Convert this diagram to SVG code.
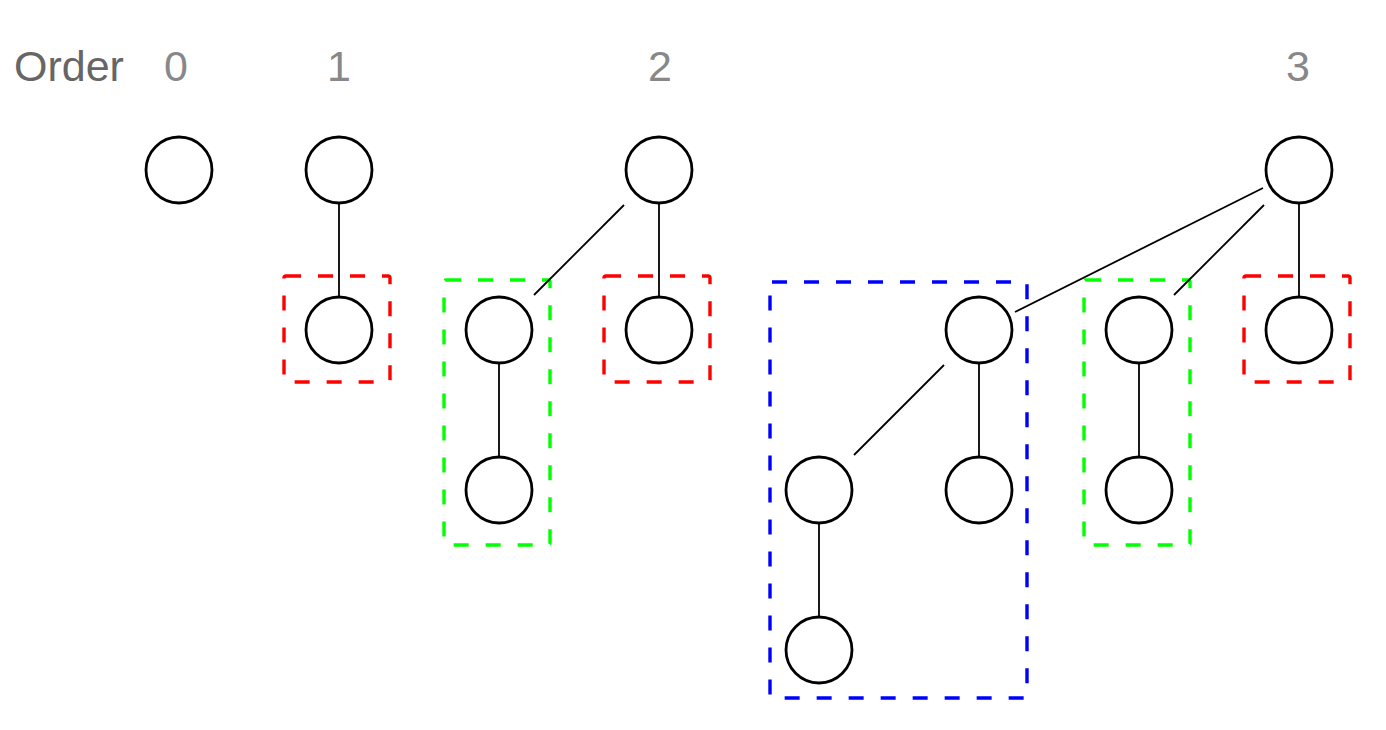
<svg xmlns="http://www.w3.org/2000/svg" width="1386" height="730" viewBox="0 0 1386 730">
<style>
.n{fill:#fff;stroke:#000;stroke-width:2.8}
.e{stroke:#000;stroke-width:1.8;fill:none}
.box{fill:none;stroke-width:3.4;stroke-dasharray:15 17}
.red{stroke:#ff0000}
.green{stroke:#00ff00}
.blue{stroke:#0000ff}
.t{font-family:"Liberation Sans",Arial,sans-serif;font-size:43px}
</style>
<rect width="1386" height="730" fill="#fff"/>
<g id="labels">
<text class="t" x="14" y="81" fill="#666666">Order</text>
<text class="t" x="176" y="81" fill="#888888" text-anchor="middle">0</text>
<text class="t" x="339" y="81" fill="#888888" text-anchor="middle">1</text>
<text class="t" x="660" y="81" fill="#888888" text-anchor="middle">2</text>
<text class="t" x="1298" y="81" fill="#888888" text-anchor="middle">3</text>
</g>
<g id="groups">
<rect id="box-red1" class="box red" x="284" y="276" width="106" height="106" rx="2"/>
<rect id="box-green1" class="box green" x="444" y="280" width="106" height="265" rx="2"/>
<rect id="box-red2" class="box red" x="604" y="276" width="106" height="106" rx="2"/>
<rect id="box-blue" class="box blue" x="770" y="282" width="257" height="416" rx="2"/>
<rect id="box-green2" class="box green" x="1084" y="280" width="106" height="265" rx="2"/>
<rect id="box-red3" class="box red" x="1244" y="276" width="106" height="106" rx="2"/>
</g>
<g id="connectors">
<line class="e" x1="339" y1="203" x2="339" y2="297"/>
<line class="e" x1="659" y1="203" x2="659" y2="297"/>
<line class="e" x1="624" y1="205" x2="534" y2="295"/>
<line class="e" x1="499" y1="363" x2="499" y2="457"/>
<line class="e" x1="1299" y1="203" x2="1299" y2="297"/>
<line class="e" x1="1264" y1="205" x2="1174" y2="295"/>
<line class="e" x1="1263" y1="188" x2="1015" y2="312"/>
<line class="e" x1="1139" y1="363" x2="1139" y2="457"/>
<line class="e" x1="979" y1="363" x2="979" y2="457"/>
<line class="e" x1="944" y1="365" x2="854" y2="455"/>
<line class="e" x1="819" y1="523" x2="819" y2="617"/>
</g>
<g id="node-o0"><circle class="n" cx="179" cy="170" r="33"/></g>
<g id="node-o1-root"><circle class="n" cx="339" cy="170" r="33"/></g>
<g id="node-o1-c0"><circle class="n" cx="339" cy="330" r="33"/></g>
<g id="node-o2-root"><circle class="n" cx="659" cy="170" r="33"/></g>
<g id="node-o2-c1"><circle class="n" cx="499" cy="330" r="33"/></g>
<g id="node-o2-c1a"><circle class="n" cx="499" cy="490" r="33"/></g>
<g id="node-o2-c0"><circle class="n" cx="659" cy="330" r="33"/></g>
<g id="node-o3-root"><circle class="n" cx="1299" cy="170" r="33"/></g>
<g id="node-o3-c2"><circle class="n" cx="979" cy="330" r="33"/></g>
<g id="node-o3-c2a"><circle class="n" cx="819" cy="490" r="33"/></g>
<g id="node-o3-c2aa"><circle class="n" cx="819" cy="650" r="33"/></g>
<g id="node-o3-c2b"><circle class="n" cx="979" cy="490" r="33"/></g>
<g id="node-o3-c1"><circle class="n" cx="1139" cy="330" r="33"/></g>
<g id="node-o3-c1a"><circle class="n" cx="1139" cy="490" r="33"/></g>
<g id="node-o3-c0"><circle class="n" cx="1299" cy="330" r="33"/></g>
</svg>
